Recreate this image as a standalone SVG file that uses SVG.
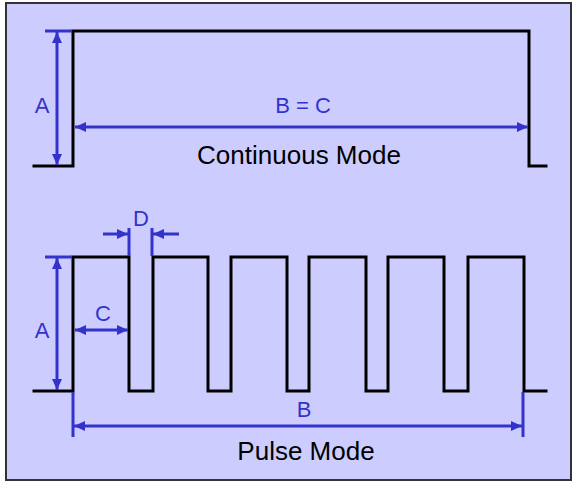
<svg xmlns="http://www.w3.org/2000/svg" width="574" height="482" viewBox="0 0 574 482">
<style>
.wave{fill:none;stroke:#000;stroke-width:3;stroke-linejoin:miter;stroke-linecap:square}
.dim{fill:none;stroke:#3333CC;stroke-width:3}
.ext{fill:none;stroke:#3333CC;stroke-width:3}
.lbl{font-family:"Liberation Sans",Arial,sans-serif;font-size:22px;fill:#3333CC;text-anchor:middle}
.ttl{font-family:"Liberation Sans",Arial,sans-serif;font-size:26px;fill:#000;text-anchor:middle}
</style>
<defs>
<marker id="ah" viewBox="0 0 11 10" refX="11" refY="5" markerWidth="11" markerHeight="10" markerUnits="userSpaceOnUse" orient="auto-start-reverse">
<path d="M0,0 L11,5 L0,10 z" fill="#3333CC"/>
</marker>
</defs>
<rect x="0" y="0" width="574" height="482" fill="#fff"/>
<rect id="frame" x="6" y="3" width="565" height="477" fill="#CCCCFF" stroke="#333" stroke-width="2"/>
<g id="continuous">
<path class="wave" d="M34,166 H73 V31 H529 V166 H546"/>
</g>
<g id="pulse">
<path class="wave" d="M34,391 H73 V257 H129 V391 H153 V257 H208 V391 H231 V257 H287 V391 H309 V257 H366 V391 H388 V257 H444 V391 H468 V257 H524 V391 H546"/>
</g>
<g id="connectors">
<line class="ext" x1="45" y1="31" x2="72" y2="31"/>
<line class="dim" x1="57" y1="32" x2="57" y2="165" marker-start="url(#ah)" marker-end="url(#ah)"/>
<line class="dim" x1="75" y1="127" x2="528" y2="127" marker-start="url(#ah)" marker-end="url(#ah)"/>
<line class="ext" x1="45" y1="257" x2="72" y2="257"/>
<line class="dim" x1="57" y1="258" x2="57" y2="390" marker-start="url(#ah)" marker-end="url(#ah)"/>
<line class="dim" x1="75" y1="330" x2="128" y2="330" marker-start="url(#ah)" marker-end="url(#ah)"/>
<line class="ext" x1="129" y1="228" x2="129" y2="256"/>
<line class="ext" x1="152" y1="228" x2="152" y2="256"/>
<line class="dim" x1="103" y1="234" x2="128" y2="234" marker-end="url(#ah)"/>
<line class="dim" x1="179" y1="234" x2="153" y2="234" marker-end="url(#ah)"/>
<line class="ext" x1="73" y1="392" x2="73" y2="437"/>
<line class="ext" x1="523" y1="392" x2="523" y2="437"/>
<line class="dim" x1="74" y1="426" x2="522" y2="426" marker-start="url(#ah)" marker-end="url(#ah)"/>
</g>
<g id="labels">
<text class="lbl" x="42" y="113">A</text>
<text class="lbl" x="303" y="113">B = C</text>
<text class="ttl" x="299" y="164">Continuous Mode</text>
<text class="lbl" x="141" y="226">D</text>
<text class="lbl" x="103" y="321">C</text>
<text class="lbl" x="42" y="338">A</text>
<text class="lbl" x="304" y="417">B</text>
<text class="ttl" x="306" y="460">Pulse Mode</text>
</g>
</svg>
